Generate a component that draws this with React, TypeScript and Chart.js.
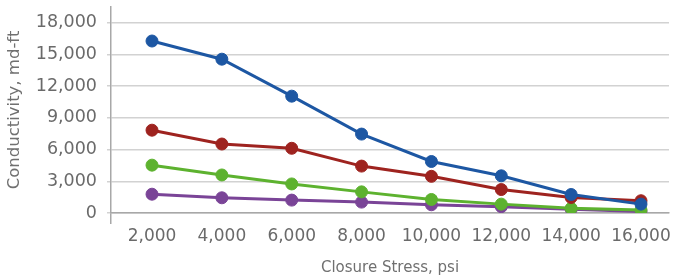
import React, { useEffect, useRef } from "react";
import { Chart, registerables } from "chart.js";

Chart.register(...registerables);

const closureStress = [2000, 4000, 6000, 8000, 10000, 12000, 14000, 16000];
const seriesBlue = [16280, 14560, 11060, 7470, 4875, 3520, 1750, 840];
const seriesRed = [7840, 6530, 6125, 4440, 3470, 2220, 1470, 1160];
const seriesGreen = [4530, 3600, 2750, 2000, 1280, 840, 440, 280];
const seriesPurple = [1780, 1440, 1220, 1030, 780, 600, 350, 150];
const yTicks = [0, 3000, 6000, 9000, 12000, 15000, 18000];
const xTicks = [2000, 4000, 6000, 8000, 10000, 12000, 14000, 16000];

const X_MIN = 826;
const X_MAX = 16802;
const Y_MAX = 19500;

const FONT = "'DejaVu Sans', sans-serif";

function mk(label: string, data: number[], color: string) {
  return {
    label,
    data: closureStress.map((x, i) => ({ x, y: data[i] })),
    borderColor: color,
    backgroundColor: color,
    pointBackgroundColor: color,
    pointBorderColor: color,
    borderWidth: 3,
    pointRadius: 6,
    pointBorderWidth: 1,
    tension: 0,
  };
}

export default function App() {
  const ref = useRef<HTMLCanvasElement | null>(null);
  useEffect(() => {
    if (!ref.current) return;
    const chart = new Chart(ref.current, {
      type: "line",
      data: {
        datasets: [
          mk("Blue", seriesBlue, "#1d57a3"),
          mk("Red", seriesRed, "#9e231f"),
          mk("Green", seriesGreen, "#5db22f"),
          mk("Purple", seriesPurple, "#7a4497"),
        ],
      },
      options: {
        animation: false,
        responsive: false,
        layout: { padding: { top: 5, right: 13, left: 0, bottom: 0 } },
        plugins: { legend: { display: false }, tooltip: { enabled: false } },
        scales: {
          x: {
            type: "linear",
            min: X_MIN,
            max: X_MAX,
            afterBuildTicks: (s: any) => {
              s.ticks = [X_MIN, ...xTicks].map((v) => ({ value: v }));
            },
            afterFit: (s: any) => {
              s.height = 67;
              s.paddingLeft = 0;
              s.paddingRight = 0;
            },
            ticks: {
              autoSkip: false,
              maxRotation: 0,
              padding: 2,
              color: "#6a6a6a",
              font: { family: FONT, size: 17 },
              callback: (v: any) =>
                v === X_MIN ? "" : Number(v).toLocaleString("en-US"),
            },
            grid: {
              drawOnChartArea: false,
              drawTicks: true,
              tickLength: 11,
              lineWidth: 1.5,
              color: (c: any) => (c.index === 0 ? "#a8a8a8" : "rgba(0,0,0,0)"),
            },
            border: { display: true, color: "#a8a8a8", width: 1.5 },
            title: {
              display: true,
              text: "Closure Stress, psi",
              color: "#707070",
              font: { family: FONT, size: 15 },
              padding: { top: 0, bottom: 2.5 },
            },
          },
          y: {
            type: "linear",
            min: 0,
            max: Y_MAX,
            afterBuildTicks: (s: any) => {
              s.ticks = yTicks.map((v) => ({ value: v }));
            },
            afterFit: (s: any) => {
              s.width = 111;
              s.paddingTop = 0;
              s.paddingBottom = 0;
            },
            ticks: {
              padding: 10,
              color: "#6a6a6a",
              font: { family: FONT, size: 17.5 },
              callback: (v: any) => Number(v).toLocaleString("en-US"),
            },
            grid: {
              color: "#d2d2d2",
              lineWidth: 1.5,
              tickLength: 4,
            },
            border: { display: true, color: "#a8a8a8", width: 1.5 },
            title: {
              display: true,
              text: "Conductivity, md-ft",
              color: "#707070",
              font: { family: FONT, size: 16.5 },
              padding: { top: 5, bottom: 0 },
            },
          },
        },
      },
    });
    return () => chart.destroy();
  }, []);
  return (
    <div style={{ position: "absolute", left: 0, top: 0, width: 682, height: 280, background: "#ffffff" }}>
      <canvas ref={ref} width={682} height={280} style={{ display: "block" }} />
    </div>
  );
}
